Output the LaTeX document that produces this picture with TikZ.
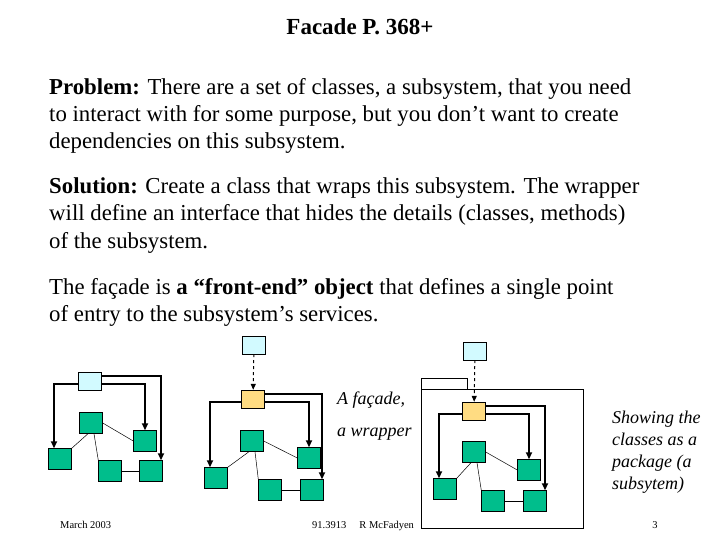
\documentclass[tikz,border=0pt]{standalone}
\usepackage{fontspec}
\setmainfont{Liberation Serif}
\usetikzlibrary{arrows.meta}
\definecolor{gfill}{RGB}{0,190,140}
\definecolor{lfill}{RGB}{210,250,255}
\definecolor{yfill}{RGB}{255,220,130}
\begin{document}
\begin{tikzpicture}[x=1pt,y=-1pt,
  txt/.style={anchor=base west,inner sep=0,font=\fontsize{22.8}{26}\selectfont},
  lbox/.style={draw,fill=lfill,minimum width=23pt,minimum height=18pt,inner sep=0},
  ybox/.style={draw,fill=yfill,minimum width=23pt,minimum height=18pt,inner sep=0},
  gbox/.style={draw,fill=gfill,minimum width=23pt,minimum height=21pt,inner sep=0},
  thk/.style={line width=2pt,-{Triangle[length=7pt,width=6pt]}},
  thn/.style={line width=0.5pt},
  ital/.style={font=\itshape\fontsize{18}{20}\selectfont,inner sep=0,anchor=base west},
  foot/.style={font=\fontsize{10.5}{12}\selectfont,inner sep=0}]
\useasboundingbox (0,0) rectangle (720,540);
\node[font=\bfseries\fontsize{23}{26}\selectfont,inner sep=0,anchor=base] (title) at (360,35) {Facade P. 368+};
\node[txt] (l1) at (49,95) {\textbf{Problem:} There are a set of classes, a subsystem, that you need};
\node[txt] (l2) at (49,122) {to interact with for some purpose, but you don’t want to create};
\node[txt] (l3) at (49,149) {dependencies on this subsystem.};
\node[txt] (l4) at (49,194) {\textbf{Solution:} Create a class that wraps this subsystem. The wrapper};
\node[txt] (l5) at (49,221) {will define an interface that hides the details (classes, methods)};
\node[txt] (l6) at (49,248) {of the subsystem.};
\node[txt] (l7) at (49,294) {The façade is \textbf{a “front-end” object} that defines a single point};
\node[txt] (l8) at (49,321) {of entry to the subsystem’s services.};
% diagram 1
\node[lbox] (a0) at (90,381) {};
\node[gbox] (a1) at (91,423) {};
\node[gbox] (a2) at (145,441) {};
\node[gbox] (a3) at (60,459) {};
\node[gbox] (a4) at (110,471) {};
\node[gbox] (a5) at (151,471) {};
\draw[thk] (a0.west|-0,384) -| (a3.north west -| 54,0);
\draw[thk] (a0.east|-0,384) -| (a2.north);
\draw[thk] (a0.east|-0,376) -| (a5.north east -| 161,0);
\draw[thn] (a1.south) ++(-3,0) -- (a3.north east);
\draw[thn] (a1.south) ++(3,0) -- (a4.north west);
\draw[thn] (a1.east) -- (a2.west);
\draw[thn] (a4) -- (a5);
% diagram 2
\node[lbox] (b0) at (254,345) {};
\node[ybox] (bf) at (253,399) {};
\node[gbox] (b1) at (252,441) {};
\node[gbox] (b2) at (309,458) {};
\node[gbox] (b3) at (216,478) {};
\node[gbox] (b4) at (270,490) {};
\node[gbox] (b5) at (312,490) {};
\draw[dashed,line width=1pt,-{Triangle[length=6pt,width=5pt]}] (b0) -- (bf);
\draw[thk] (bf.west|-0,402) -| (b3.north west -| 210,0);
\draw[thk] (bf.east|-0,402) -| (b2.north);
\draw[thk] (bf.east|-0,394) -| (b5.north east -| 322,0);
\draw[thn] (b1.south) ++(-3,0) -- (b3.north east);
\draw[thn] (b1.south) ++(3,0) -- (b4.north west);
\draw[thn] (b1.east) -- (b2.west);
\draw[thn] (b4) -- (b5);
\node[ital] (t1) at (337,404) {A façade,};
\node[ital] (t2) at (337,436) {a wrapper};
% diagram 3
\draw[thn] (421,389) rectangle (583,528);
\draw[thn] (421,389) -- (421,378) -- (467,378) -- (467,389);
\node[lbox] (c0) at (475,351) {};
\node[ybox] (cf) at (474,411) {};
\node[gbox] (c1) at (474,452) {};
\node[gbox] (c2) at (529,470) {};
\node[gbox] (c3) at (445,489) {};
\node[gbox] (c4) at (493,501) {};
\node[gbox] (c5) at (535,501) {};
\draw[dashed,line width=1pt,-{Triangle[length=6pt,width=5pt]}] (c0) -- (cf);
\draw[thk] (cf.west|-0,414) -| (c3.north west -| 439,0);
\draw[thk] (cf.east|-0,414) -| (c2.north);
\draw[thk] (cf.east|-0,406) -| (c5.north east -| 545,0);
\draw[thn] (c1.south) ++(-3,0) -- (c3.north east);
\draw[thn] (c1.south) ++(3,0) -- (c4.north west);
\draw[thn] (c1.east) -- (c2.west);
\draw[thn] (c4) -- (c5);
\node[ital] (s1) at (612,423) {Showing the};
\node[ital] (s2) at (612,445) {classes as a};
\node[ital] (s3) at (612,467) {package (a};
\node[ital] (s4) at (612,489) {subsytem)};
% footer
\node[foot,anchor=base west] (f1) at (60,528) {March 2003};
\node[foot,anchor=base west] (f2) at (312,528) {91.3913 \quad R McFadyen};
\node[foot,anchor=base] (f3) at (655,528) {3};
\end{tikzpicture}
\end{document}
